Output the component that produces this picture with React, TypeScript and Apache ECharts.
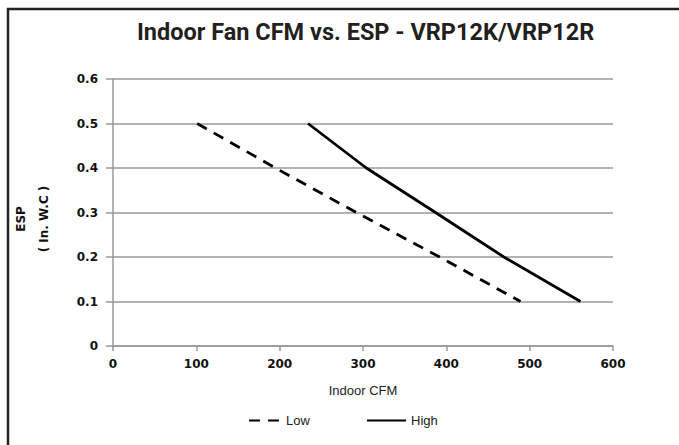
import React, { useEffect, useRef } from "react";
import * as echarts from "echarts";

const titleText = "Indoor Fan CFM vs. ESP - VRP12K/VRP12R";
const xAxisName = "Indoor CFM";
const yAxisNameLines = ["ESP", "( In. W.C )"];
const seriesNames = ["Low", "High"];
const lowCfm = [101, 195, 292, 392, 489];
const lowEsp = [0.5, 0.4, 0.3, 0.2, 0.1];
const highCfm = [234, 304, 387, 469, 561];
const highEsp = [0.5, 0.4, 0.3, 0.2, 0.1];

const toPairs = (xs: number[], ys: number[]) => xs.map((x, i) => [x, ys[i]]);

export default function App() {
  const ref = useRef<HTMLDivElement>(null);
  useEffect(() => {
    if (!ref.current) return;
    const chart = echarts.init(ref.current, null, { renderer: "svg" });
    const tickFont = {
      fontFamily: "DejaVu Sans",
      fontWeight: "bold" as const,
      fontSize: 12,
      color: "#111",
    };
    const legendText = { fontFamily: "Liberation Sans", fontSize: 13, color: "#222" };
    chart.setOption({
      animation: false,
      backgroundColor: "#fff",
      title: {
        text: titleText,
        left: 137,
        top: 20,
        padding: 0,
        textStyle: {
          fontFamily: "Roboto",
          fontWeight: "bold",
          fontSize: 23.5,
          color: "#231f20",
        },
      },
      graphic: [
        {
          type: "rect",
          shape: { x: 8, y: 9, width: 1000, height: 1000 },
          style: { fill: "none", stroke: "#222", lineWidth: 2.5 },
          silent: true,
        },
        {
          type: "text",
          x: 32,
          y: 219,
          rotation: Math.PI / 2,
          style: {
            text: yAxisNameLines.join("\n"),
            fontFamily: "DejaVu Sans",
            fontWeight: "bold",
            fontSize: 12,
            lineHeight: 23,
            fill: "#111",
            align: "center",
            verticalAlign: "middle",
          },
        },
      ],
      legend: [
        {
          data: [seriesNames[0]],
          left: 248,
          top: 414,
          padding: 0,
          itemWidth: 32,
          itemHeight: 14,
          itemStyle: { opacity: 0 },
          textStyle: legendText,
        },
        {
          data: [seriesNames[1]],
          left: 366,
          top: 414,
          padding: 0,
          itemWidth: 39,
          itemHeight: 14,
          itemStyle: { opacity: 0 },
          textStyle: legendText,
        },
      ],
      grid: { left: 113, right: 66, top: 79, bottom: 99, containLabel: false },
      xAxis: {
        type: "value",
        min: 0,
        max: 600,
        interval: 100,
        name: xAxisName,
        nameLocation: "middle",
        nameGap: 38,
        nameTextStyle: { fontFamily: "Liberation Sans", fontSize: 13, color: "#222" },
        axisLine: { show: true, lineStyle: { color: "#999", width: 1.5 } },
        axisTick: { show: true, length: 5, lineStyle: { color: "#999", width: 1.5 } },
        axisLabel: { ...tickFont, margin: 12 },
        splitLine: { show: false },
      },
      yAxis: {
        type: "value",
        min: 0,
        max: 0.6,
        interval: 0.1,
        axisLine: { show: true, lineStyle: { color: "#999", width: 1.5 } },
        axisTick: { show: true, length: 7, lineStyle: { color: "#999", width: 1.5 } },
        axisLabel: { ...tickFont, margin: 15 },
        splitLine: { show: true, lineStyle: { color: "#999", width: 1.5 } },
      },
      series: [
        {
          name: seriesNames[0],
          type: "line",
          data: toPairs(lowCfm, lowEsp),
          symbol: "none",
          lineStyle: { color: "#000", width: 2.8, type: [11, 8] },
          itemStyle: { color: "#000" },
        },
        {
          name: seriesNames[1],
          type: "line",
          data: toPairs(highCfm, highEsp),
          symbol: "none",
          lineStyle: { color: "#000", width: 2.8, type: "solid" },
          itemStyle: { color: "#000" },
        },
      ],
    });
    return () => chart.dispose();
  }, []);
  return (
    <div
      ref={ref}
      style={{ position: "fixed", left: 0, top: 0, width: 679, height: 445 }}
    />
  );
}
